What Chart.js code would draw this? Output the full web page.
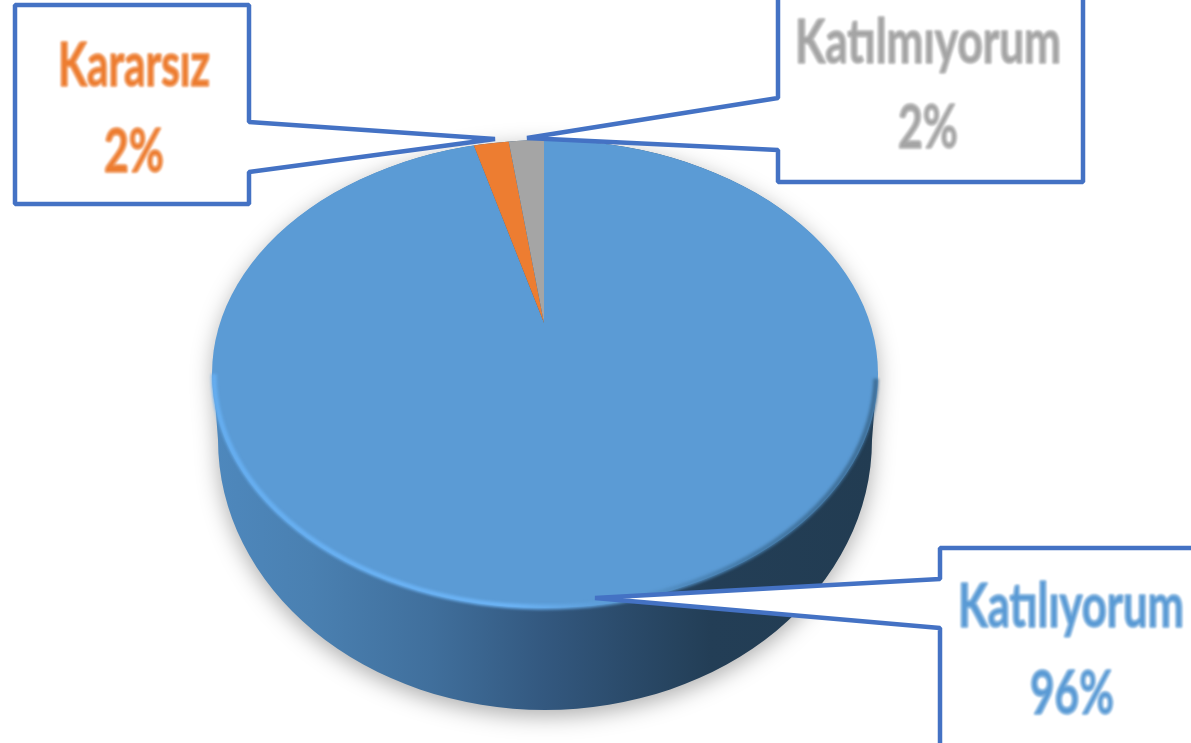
<!DOCTYPE html>
<html>
<head>
<meta charset="utf-8">
<style>
	html, body { margin: 0; padding: 0; background: #fff; overflow: hidden; }
	canvas { display: block; }
</style>
<script src="https://cdn.jsdelivr.net/npm/chart.js@4"></script>
</head>
<body>
<canvas id="chart-pie" width="1191" height="743"></canvas>
<script>
const CATEGORIES = ["Katılıyorum", "Kararsız", "Katılmıyorum"];
const VALUES = [96, 2, 2];
const SLICE_COLORS = ["#5b9bd5", "#ed7d31", "#a5a5a5"];
const LABEL_COLORS = ["#5b9bd5", "#ed7d31", "#a5a5a5"];

// Look of the tilted disc
const TOP_FACE = { x: 545, y: 374, rx: 333, ry: 234 };
const BOTTOM_FACE = { x: 545, y: 440, rx: 327, ry: 270 };
const APEX = { x: 544, y: 323 };
const SLICE_SCALE = { x: 1.37, y: 0.89 };
const BORDER_COLOR = "#4472c4";

// Callout boxes, same order as CATEGORIES
const CALLOUTS = [
	{
		points: [[595, 598], [940, 579], [940, 548], [1197, 548], [1197, 749], [940, 749], [940, 628]],
		name: { x: 1071, y: 627, w: 226 },
		value: { x: 1072, y: 714, w: 84 },
	},
	{
		points: [[495, 139], [249, 172], [249, 204], [15, 204], [15, 5], [249, 5], [249, 122]],
		name: { x: 134, y: 86, w: 152 },
		value: { x: 134, y: 172, w: 60 },
	},
	{
		points: [[527, 138], [778, 98], [778, -6], [1083, -6], [1083, 182], [778, 182], [778, 150]],
		name: { x: 928, y: 63, w: 266 },
		value: { x: 928, y: 148, w: 60 },
	},
];

const ellipsePath = (ctx, e) => {
	ctx.beginPath();
	ctx.ellipse(e.x, e.y, e.rx, e.ry, 0, 0, Math.PI * 2);
};

const drawWall = (ctx) => {
	const gradient = ctx.createLinearGradient(212, 0, 877, 0);
	gradient.addColorStop(0, "#4e88bd");
	gradient.addColorStop(0.15, "#4a80b1");
	gradient.addColorStop(0.33, "#406f9c");
	gradient.addColorStop(0.5, "#33587f");
	gradient.addColorStop(0.65, "#294866");
	gradient.addColorStop(0.75, "#233e56");
	gradient.addColorStop(1, "#223c52");

	ctx.save();
	ctx.shadowColor = "rgba(0, 0, 0, 0.32)";
	ctx.shadowBlur = 22;
	ctx.shadowOffsetY = 6;
	ctx.fillStyle = gradient;
	ctx.beginPath();
	ctx.ellipse(TOP_FACE.x, TOP_FACE.y, TOP_FACE.rx - 1, TOP_FACE.ry, 0, 0, Math.PI, true);
	ctx.lineTo(BOTTOM_FACE.x - BOTTOM_FACE.rx, BOTTOM_FACE.y);
	ctx.ellipse(BOTTOM_FACE.x, BOTTOM_FACE.y, BOTTOM_FACE.rx, BOTTOM_FACE.ry, 0, Math.PI, 0, true);
	ctx.closePath();
	ctx.fill();
	ctx.restore();
};

const drawRim = (ctx) => {
	const gradient = ctx.createLinearGradient(212, 0, 877, 0);
	gradient.addColorStop(0, "#66aef0");
	gradient.addColorStop(0.45, "#6cb4f6");
	gradient.addColorStop(0.6, "#5b9bd5");
	gradient.addColorStop(0.8, "#447aa8");
	gradient.addColorStop(1, "#3f6f98");

	ctx.save();
	ctx.filter = "blur(1.8px)";
	ctx.strokeStyle = gradient;
	ctx.lineWidth = 5;
	ctx.beginPath();
	ctx.ellipse(TOP_FACE.x, TOP_FACE.y, TOP_FACE.rx - 2, TOP_FACE.ry - 1, 0, 0.02, Math.PI);
	ctx.stroke();
	ctx.restore();
};

const drawCallout = (ctx, box, index) => {
	ctx.save();
	ctx.beginPath();
	box.points.forEach(([x, y], i) => (i ? ctx.lineTo(x, y) : ctx.moveTo(x, y)));
	ctx.closePath();
	ctx.fillStyle = "#fff";
	ctx.fill();
	ctx.strokeStyle = BORDER_COLOR;
	ctx.lineWidth = 4.5;
	ctx.lineJoin = "bevel";
	ctx.stroke();

	ctx.filter = "blur(0.8px)";
	ctx.fillStyle = LABEL_COLORS[index];
	ctx.strokeStyle = LABEL_COLORS[index];
	ctx.lineWidth = 1;
	ctx.font = "bold 61px Lato, 'Open Sans', sans-serif";
	ctx.textAlign = "center";
	ctx.textBaseline = "alphabetic";
	ctx.fillText(CATEGORIES[index], box.name.x, box.name.y, box.name.w);
	ctx.strokeText(CATEGORIES[index], box.name.x, box.name.y, box.name.w);
	ctx.fillText(VALUES[index] + "%", box.value.x, box.value.y, box.value.w);
	ctx.strokeText(VALUES[index] + "%", box.value.x, box.value.y, box.value.w);
	ctx.restore();
};

const disc3d = {
	id: "disc3d",
	beforeDatasetsDraw(chart) {
		const ctx = chart.ctx;
		const arc = chart.getDatasetMeta(0).data[0];

		drawWall(ctx);

		// Slices are pulled away from the middle, the face ellipse cuts them
		ctx.save();
		ellipsePath(ctx, TOP_FACE);
		ctx.clip();
		ctx.translate(APEX.x, APEX.y);
		ctx.scale(SLICE_SCALE.x, SLICE_SCALE.y);
		ctx.translate(-arc.x, -arc.y);
	},
	afterDatasetsDraw(chart) {
		const ctx = chart.ctx;
		ctx.restore();

		drawRim(ctx);
		CALLOUTS.forEach((box, i) => drawCallout(ctx, box, i));
	},
};

new Chart(document.getElementById("chart-pie"), {
	type: "pie",
	data: {
		labels: CATEGORIES,
		datasets: [
			{
				data: VALUES,
				backgroundColor: SLICE_COLORS,
				borderWidth: 0,
			},
		],
	},
	options: {
		responsive: false,
		animation: false,
		plugins: {
			legend: { display: false },
			tooltip: { enabled: false },
		},
	},
	plugins: [disc3d],
});
</script>
</body>
</html>
